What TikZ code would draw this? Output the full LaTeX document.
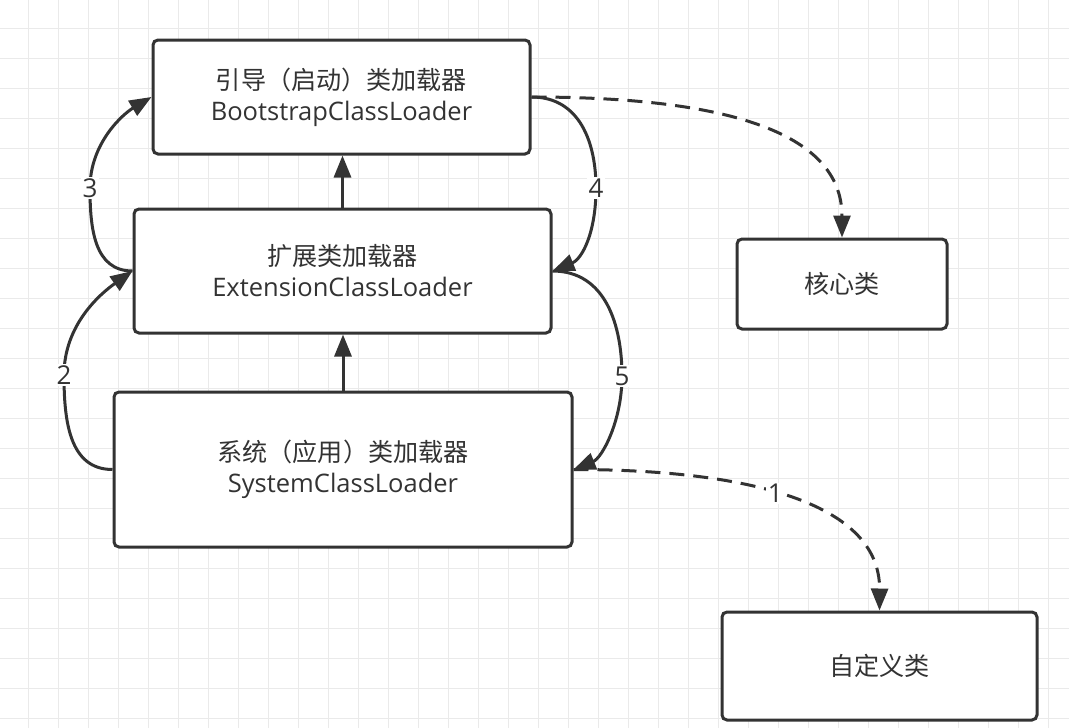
\documentclass[tikz,border=0pt]{standalone}
\usepackage{fontspec}
\setmainfont{Open Sans}
\newfontfamily\cjk{Noto Sans CJK SC}[Scale=0.985]
\usetikzlibrary{arrows.meta}
\definecolor{ink}{HTML}{333333}
\definecolor{gridc}{HTML}{EAEAEA}
\begin{document}
\begin{tikzpicture}[x=1pt,y=-1pt,
  box/.style={draw=ink, line width=3pt, rounded corners=5pt, fill=white, text=ink,
    align=center, font=\fontsize{25.5}{31}\selectfont, inner sep=0pt},
  conn/.style={draw=ink, line width=3pt, -{Triangle[length=22pt,width=17pt]}},
  dashconn/.style={conn, dash pattern=on 15pt off 9pt},
  lbl/.style={fill=white, text=ink, font=\fontsize{26}{26}\selectfont, inner sep=1.5pt},
  gridline/.style={draw=gridc, line width=1pt}]
\useasboundingbox[fill=white] (0,0) rectangle (1069,728);
\foreach \x in {28,58,...,1060} \draw[gridline] (\x,0) -- (\x,728);
\foreach \y in {28,58,...,720} \draw[gridline] (0,\y) -- (1069,\y);

\node[box, minimum width=377pt, minimum height=114pt] (boot) at (341.5,97)
  {{\cjk 引导（启动）类加载器}\\BootstrapClassLoader};
\node[box, minimum width=417pt, minimum height=124pt] (ext) at (342.5,271)
  {{\cjk 扩展类加载器}\\ExtensionClassLoader};
\node[box, minimum width=458pt, minimum height=155pt] (sys) at (343,469.5)
  {{\cjk 系统（应用）类加载器}\\SystemClassLoader};
\node[box, minimum width=210pt, minimum height=90pt] (core) at (842,284)
  {\cjk 核心类};
\node[box, minimum width=315pt, minimum height=108pt] (custom) at (879.5,666)
  {\cjk 自定义类};

\coordinate (m3) at (90,188);
\coordinate (m2) at (64,375);
\coordinate (m4) at (596,188);
\coordinate (m5) at (622,376);

\draw[conn] (ext.north) -- (ext.north |- boot.south);
\draw[conn] (sys.north) -- (sys.north |- ext.south);

\draw[conn] (ext.west) .. controls (94,271) and (90,228) .. (m3) node[lbl] {3}
  .. controls (90,143) and (123,114) .. (boot.west);
\draw[conn] (sys.west) .. controls (69,469.5) and (64,420) .. (m2) node[lbl] {2}
  .. controls (64,325) and (100,294) .. (ext.west);
\draw[conn] (boot.east) .. controls (580,97) and (596,143) .. (m4) node[lbl] {4}
  .. controls (596,233) and (582,259) .. (ext.east);
\draw[conn] (ext.east) .. controls (606,271) and (622,326) .. (m5) node[lbl] {5}
  .. controls (622,421) and (602,458) .. (sys.east);

\draw[dashconn] (boot.east) .. controls (720,97) and (842,130) .. (core.north);
\draw[dashconn] (sys.east) .. controls (740,469.5) and (880,500) .. node[lbl, pos=0.46] {1} (custom.north);
\end{tikzpicture}
\end{document}
